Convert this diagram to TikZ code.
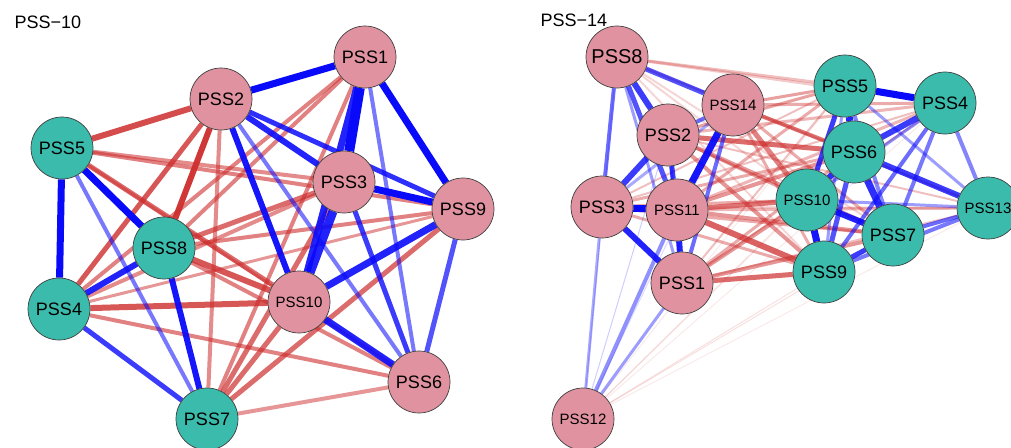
\documentclass[tikz,border=0pt]{standalone}
\usepackage{fontspec}
\setmainfont{Liberation Sans}
\usetikzlibrary{backgrounds}
\definecolor{pinkfill}{RGB}{224,146,160}
\definecolor{tealfill}{RGB}{59,187,171}
\definecolor{poscol}{RGB}{10,10,250}
\definecolor{negcol}{RGB}{205,45,45}
\tikzset{
  vtx/.style={circle, minimum size=62pt, inner sep=0pt, draw=black!75, line width=0.7pt,
              text=black, font=\fontsize{18}{18}\selectfont},
  small/.style={font=\fontsize{15}{15}\selectfont},
  pk/.style={vtx, fill=pinkfill},
  tl/.style={vtx, fill=tealfill},
  posedge/.style={draw=poscol},
  negedge/.style={draw=negcol},
  ttl/.style={anchor=base west, font=\fontsize{18}{18}\selectfont}
}
\begin{document}
\begin{tikzpicture}[x=1pt, y=-1pt]
\useasboundingbox (0,0) rectangle (1011,447);

% ---------- PSS-10 ----------
\node[ttl] (t10) at (11,28) {PSS−10};
\node[pk] (a1) at (365,57) {PSS1};
\node[pk] (a2) at (221,99) {PSS2};
\node[pk] (a3) at (344,182) {PSS3};
\node[pk] (a9) at (463,209) {PSS9};
\node[pk,small] (a10) at (299,302) {PSS10};
\node[pk] (a6) at (419,382) {PSS6};
\node[tl] (a5) at (62,148) {PSS5};
\node[tl] (a8) at (164,248) {PSS8};
\node[tl] (a4) at (59,309) {PSS4};
\node[tl] (a7) at (207,419) {PSS7};

\begin{scope}[on background layer]
  % negative partial correlations
  \foreach \u/\v/\w/\o in {
    a5/a6/3/.5, a4/a9/3/.5, a5/a3/4/.55, a4/a3/4/.55, a7/a2/4/.55, a7/a6/4/.5,
    a4/a6/4/.6, a8/a6/4/.6, a8/a1/4/.6, a4/a1/4/.6, a7/a1/4/.6, a5/a9/4/.6,
    a8/a9/4/.6, a5/a10/5/.7, a8/a3/5/.7, a7/a3/5/.7, a7/a9/5/.7, a7/a10/5/.7,
    a4/a2/5/.8, a4/a10/6/.8, a8/a10/6/.8, a5/a2/6/.85, a8/a2/6/.95}
    \draw[negedge, line width=\w pt, draw opacity=\o] (\u) -- (\v);
  % positive partial correlations
  \foreach \u/\v/\w/\o in {
    a1/a6/4/.55, a2/a6/4/.55, a5/a7/4/.55, a9/a6/5/.7, a3/a6/5/.8, a4/a7/5/.8,
    a2/a9/5/.85, a2/a3/6/.9, a4/a8/6/.9, a10/a6/7/.9, a9/a10/7/.9, a1/a10/7/.9,
    a2/a10/6/.95, a8/a7/6/.95, a3/a10/9/.9, a1/a2/7/1, a1/a9/7/1, a3/a9/7/1,
    a5/a4/7/1, a5/a8/7/1, a1/a3/10/1}
    \draw[posedge, line width=\w pt, draw opacity=\o] (\u) -- (\v);
\end{scope}

% ---------- PSS-14 ----------
\node[ttl] (t14) at (537,27) {PSS−14};
\node[pk, font=\fontsize{20}{20}\selectfont] (b8) at (617,57) {PSS8};
\node[pk,small] (b14) at (733,105) {PSS14};
\node[pk] (b2) at (668,135) {PSS2};
\node[pk] (b3) at (602,207) {PSS3};
\node[pk,small] (b11) at (677,210) {PSS11};
\node[pk] (b1) at (682,283) {PSS1};
\node[pk,small] (b12) at (583,419) {PSS12};
\node[tl] (b5) at (845,86) {PSS5};
\node[tl] (b4) at (945,103) {PSS4};
\node[tl] (b6) at (854,152) {PSS6};
\node[tl,small] (b10) at (807,200) {PSS10};
\node[tl,small] (b13) at (988,208) {PSS13};
\node[tl] (b7) at (893,235) {PSS7};
\node[tl] (b9) at (824,272) {PSS9};

\begin{scope}[on background layer]
  % negative partial correlations
  \foreach \u/\v/\w/\o in {
    b12/b5/1/.1, b12/b4/1/.1, b12/b6/1/.12, b12/b10/1/.12, b12/b13/1/.1, b12/b7/1/.15, b12/b9/1/.15,
    b8/b6/2/.25, b8/b10/2/.2, b8/b13/2/.2, b8/b7/2/.2, b8/b9/2/.2, b8/b4/3/.25, b8/b5/3/.3,
    b3/b5/2/.3, b3/b4/2/.3, b3/b13/2/.25, b3/b6/3/.4, b3/b10/3/.4, b3/b7/3/.4, b3/b9/3/.4,
    b14/b13/2/.3, b14/b4/3/.4, b14/b5/3/.45, b14/b7/3/.4, b14/b9/3/.4, b14/b6/4/.6, b14/b10/5/.6,
    b2/b13/2/.3, b2/b4/3/.35, b2/b5/3/.45, b2/b10/3/.45, b2/b7/4/.5, b2/b9/4/.5, b2/b6/5/.7,
    b1/b5/2/.3, b1/b4/2/.3, b1/b13/2/.3, b1/b6/3/.4, b1/b10/4/.5, b1/b7/4/.5, b1/b9/5/.7,
    b11/b4/3/.35, b11/b5/3/.4, b11/b13/3/.35, b11/b6/4/.5, b11/b7/4/.5, b11/b10/5/.65, b11/b9/6/.75}
    \draw[negedge, line width=\w pt, draw opacity=\o] (\u) -- (\v);
  % positive partial correlations
  \foreach \u/\v/\w/\o in {
    b14/b12/1/.15, b8/b12/1/.2, b2/b12/1/.2, b3/b12/3/.35, b1/b12/3/.4, b11/b12/4/.45,
    b14/b3/3/.35, b8/b1/3/.4, b2/b1/3/.4, b8/b3/4/.6, b2/b14/4/.6, b14/b1/4/.6,
    b8/b11/5/.7, b8/b14/5/.7, b2/b11/5/.8, b8/b2/6/.8, b2/b3/6/.8, b3/b1/6/.9,
    b11/b1/6/.9, b14/b11/7/.95, b3/b11/7/1,
    b5/b9/3/.4, b5/b13/3/.4, b10/b13/3/.4, b4/b10/3/.45, b5/b7/4/.5, b4/b13/4/.5,
    b4/b7/4/.55, b9/b13/4/.55, b4/b9/4/.6, b7/b13/4/.6, b6/b9/5/.7, b5/b10/5/.8,
    b7/b9/5/.8, b4/b6/6/.8, b6/b13/6/.8, b6/b10/6/.85, b6/b7/7/.85, b10/b7/6/.9,
    b5/b6/7/.9, b10/b9/7/.95, b5/b4/7/1}
    \draw[posedge, line width=\w pt, draw opacity=\o] (\u) -- (\v);
\end{scope}
\end{tikzpicture}
\end{document}
